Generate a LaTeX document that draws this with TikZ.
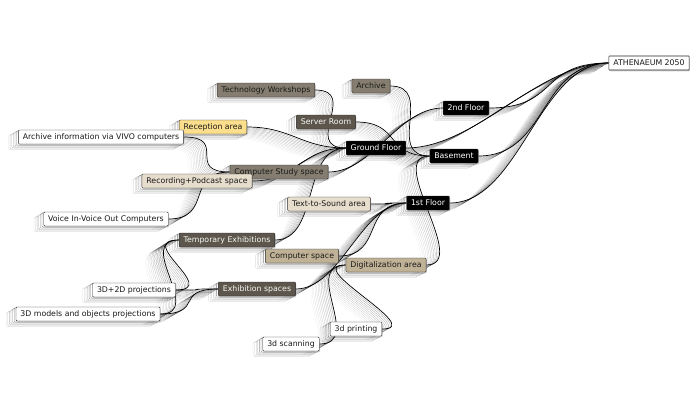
\documentclass[tikz,border=0pt]{standalone}
\usepackage{fontspec}
\setmainfont{DejaVu Sans}
\usepackage{tikz}
\usetikzlibrary{calc,backgrounds,shadows}
\definecolor{roomdark}{HTML}{5C564C}
\definecolor{roomgrey}{HTML}{857E70}
\definecolor{roomtan}{HTML}{C0B296}
\definecolor{roombeige}{HTML}{E7DDCC}
\definecolor{roomyellow}{HTML}{FCDF8C}
\tikzset{
  room/.style={draw=black!85,rounded corners=1pt,fill=#1,minimum height=14pt,inner sep=1.5pt,inner xsep=4.5pt,
    font=\fontsize{7.8}{8}\selectfont,text=black!90,
    drop shadow={shadow xshift=0.8pt,shadow yshift=-1.3pt,opacity=0.35}},
  room/.default={white},
  darkroom/.style={room=roomdark,text=white!92!roomtan},
  level/.style={room=black,text=white},
  link/.style={line width=0.7pt,black},
  ghost/.style={line width=0.3pt,draw=black,opacity=#1},
}

\begin{document}
\begin{tikzpicture}[x=1pt,y=-1pt]
 \useasboundingbox (0,0) rectangle (700,400);
 % root and floors
 \node[room,rounded corners=0.5pt,line width=0.6pt] (root) at (649,63) {ATHENAEUM 2050};
 \node[level] (floorII) at (466,108) {2nd Floor};
 \node[level] (ground) at (376,148) {Ground Floor};
 \node[level] (basement) at (454,156) {Basement};
 \node[level] (floorI) at (428,203) {1st Floor};
 % spaces
 \node[room=roomgrey] (workshops) at (266,90) {Technology Workshops};
 \node[room=roomgrey] (archive) at (371,86) {Archive};
 \node[room=roomyellow] (reception) at (213,127) {Reception area};
 \node[darkroom] (server) at (326,122) {Server Room};
 \node[room=roomgrey] (study) at (279,172) {Computer Study space};
 \node[room=roombeige] (recording) at (197,181) {Recording+Podcast space};
 \node[room=roombeige] (textsound) at (329,204) {Text-to-Sound area};
 \node[darkroom] (temporary) at (227,240) {Temporary Exhibitions};
 \node[room=roomtan] (compspace) at (302,256) {Computer space};
 \node[room=roomtan] (digital) at (386,265) {Digitalization area};
 \node[darkroom] (exhib) at (257,289) {Exhibition spaces};
 % equipment
 \node[room] (vivo) at (101,137) {Archive information via VIVO computers};
 \node[room] (voice) at (106,219) {Voice In-Voice Out Computers};
 \node[room] (proj) at (134,290) {3D+2D projections};
 \node[room] (models) at (88,314) {3D models and objects projections};
 \node[room] (printing) at (356,329) {3d printing};
 \node[room] (scanning) at (291,344) {3d scanning};

 \begin{scope}[on background layer]
  % stacked outlines behind the boxes
  \foreach \n in {floorII,ground,basement,floorI,workshops,archive,reception,server,study,recording,
                  textsound,temporary,compspace,digital,exhib,vivo,voice,proj,models,printing,scanning}{
   \foreach \k in {6,...,1}{
    \pgfmathsetmacro{\op}{0.55-0.07*\k}
    \draw[ghost=\op,fill=white,rounded corners=1pt] ($(\n.south west)+(-1.6*\k,0.9*\k)$) rectangle ($(\n.north east)+(-1.6*\k,0.9*\k)$);
   }
  }
  % connectors, child to parent
  \foreach \a/\b/\d in {floorII/root/70,ground/root/70,basement/root/70,floorI/root/70,
                        workshops/ground/45,reception/ground/45,recording/ground/45,temporary/ground/45,
                        archive/basement/45,server/basement/45,digital/basement/45,study/floorII/45,
                        textsound/floorI/45,compspace/floorI/45,exhib/floorI/45,
                        vivo/study/45,voice/study/45,proj/exhib/45,proj/temporary/45,
                        models/exhib/45,models/temporary/45,printing/digital/45,scanning/digital/45}{
   \foreach \k in {12,...,1}{
    \pgfmathsetmacro{\op}{0.42-0.03*\k}
    \draw[ghost=\op] ($(\a.east)+(-1.5*\k,0.9*\k)$) .. controls +(\d,0) and +(-\d,0) .. ($(\b.west)+(-1.5*\k,0.9*\k)$);
   }
   \draw[link] (\a.east) .. controls +(\d,0) and +(-\d,0) .. (\b.west);
  }
 \end{scope}
\end{tikzpicture}
\end{document}
